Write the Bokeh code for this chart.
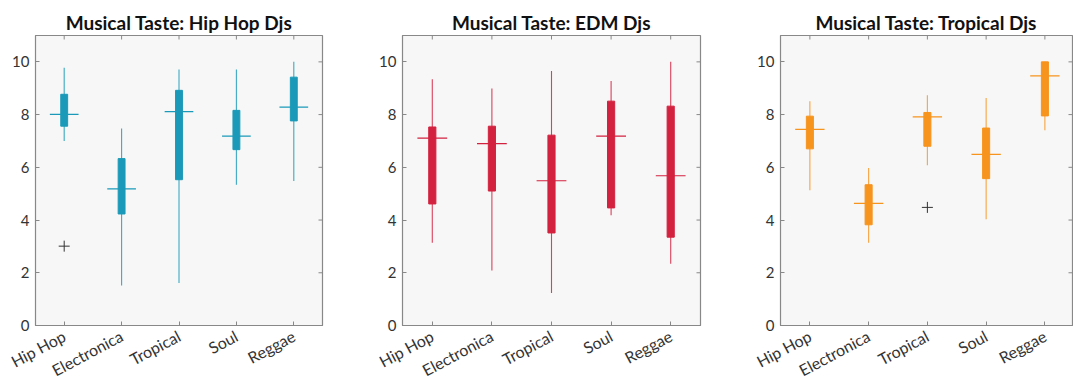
import math
from bokeh.plotting import figure
from bokeh.layouts import row
from bokeh.models import Range1d, FixedTicker
from bokeh.embed import file_html
from bokeh.resources import INLINE

genres = ["Hip Hop", "Electronica", "Tropical", "Soul", "Reggae"]
y_ticks = [0, 2, 4, 6, 8, 10]

titles = ["Musical Taste: Hip Hop Djs", "Musical Taste: EDM Djs", "Musical Taste: Tropical Djs"]
colors = ["#1a9ab8", "#d3223f", "#f7941d"]

# Hip Hop DJs
hh_low = [7.0, 1.52, 1.61, 5.34, 5.48]
hh_q1 = [7.56, 4.23, 5.53, 6.67, 7.76]
hh_med = [8.01, 5.18, 8.11, 7.18, 8.28]
hh_q3 = [8.77, 6.33, 8.92, 8.16, 9.42]
hh_high = [9.78, 7.47, 9.71, 9.71, 10.0]
hh_out_genre = ["Hip Hop"]
hh_out_val = [3.01]

# EDM DJs
edm_low = [3.14, 2.09, 1.23, 4.18, 2.34]
edm_q1 = [4.61, 5.10, 3.51, 4.46, 3.35]
edm_med = [7.11, 6.90, 5.49, 7.18, 5.68]
edm_q3 = [7.53, 7.56, 7.22, 8.51, 8.32]
edm_high = [9.34, 8.99, 9.65, 9.27, 10.0]
edm_out_genre = []
edm_out_val = []

# Tropical DJs
tr_low = [5.13, 3.14, 6.08, 4.03, 7.41]
tr_q1 = [6.70, 3.82, 6.80, 5.57, 7.95]
tr_med = [7.44, 4.63, 7.91, 6.49, 9.47]
tr_q3 = [7.94, 5.34, 8.08, 7.49, 10.0]
tr_high = [8.51, 5.97, 8.73, 8.63, 10.0]
tr_out_genre = ["Tropical"]
tr_out_val = [4.48]

panels = [
    (hh_low, hh_q1, hh_med, hh_q3, hh_high, hh_out_genre, hh_out_val),
    (edm_low, edm_q1, edm_med, edm_q3, edm_high, edm_out_genre, edm_out_val),
    (tr_low, tr_q1, tr_med, tr_q3, tr_high, tr_out_genre, tr_out_val),
]

# layout: (width, min_border_left, min_border_right, x_end)
geom = [(362, 35, 40, 5.5), (378, 40, 40, 5.5), (333, 40, 1, 5.47)]
Y_MAX = 11

FONT = "Lato"
GRAY = "#888888"
xpos = list(range(1, len(genres) + 1))
label_map = {i: g for i, g in zip(xpos, genres)}

figs = []
for k, (data, (w, bl, br, xend)) in enumerate(zip(panels, geom)):
    low, q1, med, q3, high, og, ov = data
    c = colors[k]
    p = figure(width=w, height=390, output_backend="svg", toolbar_location=None,
               x_range=Range1d(0.5, xend), y_range=Range1d(0, Y_MAX),
               min_border_left=bl, min_border_right=br, min_border_top=35,
               min_border_bottom=63, background_fill_color="#f7f7f7",
               border_fill_color="white", outline_line_color=GRAY,
               outline_line_width=1.2)
    p.title.text = titles[k]
    p.title.align = "center"
    p.title.text_font = FONT
    p.title.text_font_style = "bold"
    p.title.text_font_size = "19px"
    p.title.text_color = "#111111"
    p.title.standoff = 4
    p.xgrid.visible = False
    p.ygrid.visible = False

    p.xaxis.ticker = FixedTicker(ticks=xpos)
    p.xaxis.major_label_overrides = label_map
    p.xaxis.major_label_orientation = math.radians(28)
    p.yaxis.ticker = FixedTicker(ticks=y_ticks)
    for ax in (p.xaxis, p.yaxis):
        ax.axis_line_color = GRAY
        ax.major_tick_line_color = GRAY
        ax.major_tick_in = 4
        ax.major_tick_out = 0
        ax.minor_tick_line_color = None
        ax.major_label_text_font = FONT
        ax.major_label_text_color = "#333333"
    p.yaxis.major_label_standoff = 6
    p.xaxis.major_label_standoff = 9
    p.yaxis.major_label_text_font_size = "15px"
    p.xaxis.major_label_text_font_size = "16px"

    # mirrored tick marks on the top and right edges of the frame
    p.scatter(x=[xend] * len(y_ticks), y=y_ticks, marker="dash", size=8,
              line_color=GRAY, line_width=1)
    p.scatter(x=xpos, y=[Y_MAX] * len(xpos), marker="dash", angle=math.pi / 2,
              size=8, line_color=GRAY, line_width=1)

    p.segment(x0=xpos, y0=low, x1=xpos, y1=high, line_color=c, line_width=1.1,
              line_alpha=0.85)
    p.vbar(x=xpos, bottom=q1, top=q3, width=0.12, fill_color=c, line_color=c)
    p.segment(x0=[x - 0.25 for x in xpos], y0=med, x1=[x + 0.25 for x in xpos], y1=med,
              line_color=c, line_width=1.2)
    if og:
        ox = [xpos[genres.index(g)] for g in og]
        p.scatter(x=ox, y=ov, marker="cross", size=11, line_color="#333333", line_width=1)
    figs.append(p)

layout = row(*figs)
open("out.html", "w").write(file_html(layout, INLINE))
